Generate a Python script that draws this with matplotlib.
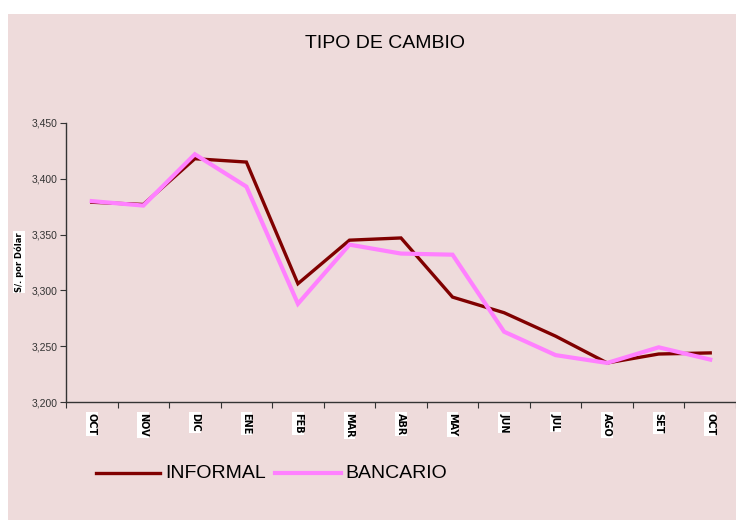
import matplotlib
matplotlib.use("Agg")
import matplotlib.pyplot as plt
import numpy as np
from matplotlib.patches import Rectangle

months = ["OCT", "NOV", "DIC", "ENE", "FEB", "MAR", "ABR", "MAY", "JUN", "JUL", "AGO", "SET", "OCT"]
informal = [3379, 3377, 3418, 3415, 3306, 3345, 3347, 3294, 3280, 3259, 3235, 3243, 3244]
bancario = [3380, 3376, 3422, 3393, 3288, 3341, 3333, 3332, 3263, 3242, 3235, 3249, 3238]
yticks = [3200, 3250, 3300, 3350, 3400, 3450]
ytick_labels = ["3,200", "3,250", "3,300", "3,350", "3,400", "3,450"]

bg = "#EEDBDB"
plt.rcParams['font.family'] = ['Liberation Sans', 'DejaVu Sans']

fig = plt.figure(figsize=(7.36, 5.2), dpi=100, facecolor="white")
fig.patches.append(Rectangle((8/736, 0), 1 - 8/736, 1 - 14/520, transform=fig.transFigure,
                             facecolor=bg, edgecolor="none", zorder=-10))

W, H = 736, 520
left, right, top, bottom = 66, 736, 123, 402
ax = fig.add_axes([left / W, 1 - bottom / H, (right - left) / W, (bottom - top) / H])
ax.set_zorder(5)
ax.patch.set_visible(False)

x = np.arange(len(months))
ax.plot(x, informal, color="#800000", lw=2.4, solid_joinstyle="miter", zorder=3)
ax.plot(x, bancario, color="#FF80FF", lw=3.0, solid_joinstyle="miter", zorder=3)

ax.set_xlim(-0.5, len(months) - 0.5)
ax.set_ylim(3200, 3450)
ax.set_yticks(yticks)
ax.set_yticklabels(ytick_labels, fontsize=7.5, color="#333333")
ax.set_xticks(np.arange(-0.5, len(months), 1.0))
ax.set_xticklabels([])
ax.set_xticks(x, minor=True)
ax.set_xticklabels(months, minor=True, rotation=270, fontsize=7, fontweight="bold",
                   family=["DejaVu Sans"], va="top", ha="center",
                   bbox=dict(facecolor="white", edgecolor="none", pad=0.6))
ax.tick_params(axis="x", which="minor", length=0, pad=8)
ax.tick_params(axis="x", which="major", length=4, direction="out", color="#333333")
ax.tick_params(axis="y", length=4, direction="out", color="#333333", pad=2)

for s in ["top", "right"]:
    ax.spines[s].set_visible(False)
for s in ["left", "bottom"]:
    ax.spines[s].set_color("#333333")
    ax.spines[s].set_linewidth(1.0)

fig.text(19 / W, 1 - 262 / H, "S/. por Dólar", rotation=90, fontsize=6, fontweight="bold",
         family=["DejaVu Sans"], ha="center", va="center", zorder=6,
         bbox=dict(facecolor="white", edgecolor="none", pad=0.6))

fig.text(385 / W, 1 - 43 / H, "TIPO DE CAMBIO", fontsize=14, ha="center", va="center", color="black", zorder=6)

# legend
ly = 1 - 473 / H
fig.add_artist(plt.Line2D([96 / W, 160 / W], [ly, ly], color="#800000", lw=2.4, zorder=6))
fig.text(165 / W, ly, "INFORMAL", fontsize=14, ha="left", va="center", zorder=6)
fig.add_artist(plt.Line2D([275 / W, 341 / W], [ly, ly], color="#FF80FF", lw=3.0, zorder=6))
fig.text(345 / W, ly, "BANCARIO", fontsize=14, ha="left", va="center", zorder=6)

fig.savefig("out.png", dpi=100, facecolor="white")
